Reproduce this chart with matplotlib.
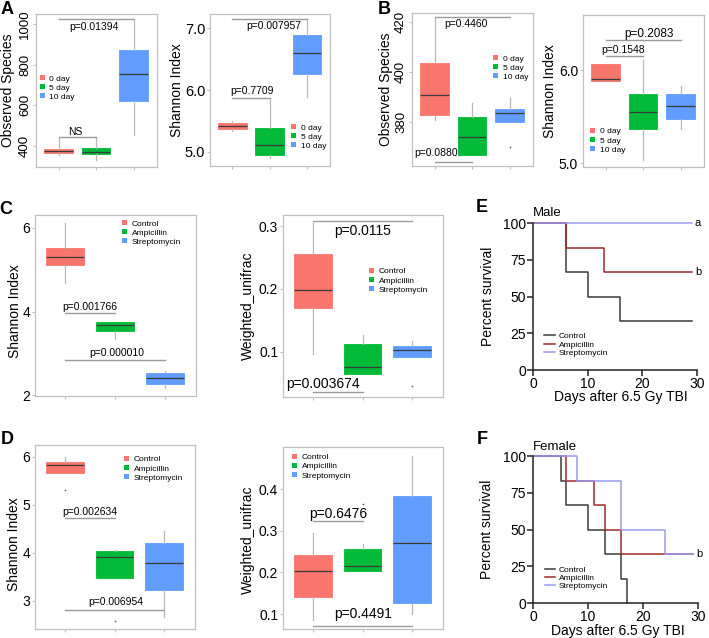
import matplotlib.pyplot as plt
from matplotlib.patches import Patch

plt.rcParams['font.family'] = ['Liberation Sans', 'DejaVu Sans']

# ---- values ----
days = ['0 day', '5 day', '10 day']
drugs = ['Control', 'Ampicillin', 'Streptomycin']
box_colors = ['#F8766D', '#00BA38', '#619CFF']

# A: observed species, shannon over time
a_obs_med = [377, 372, 754]
a_obs_q1 = [367, 359, 621]
a_obs_q3 = [385, 392, 872]
a_obs_lo = [356, 332, 454]
a_obs_hi = [440, 440, 1020]
a_obs_fl = [[], [], []]

a_sh_med = [5.42, 5.11, 6.60]
a_sh_q1 = [5.37, 4.95, 6.26]
a_sh_q3 = [5.47, 5.39, 6.89]
a_sh_lo = [5.34, 4.90, 5.89]
a_sh_hi = [5.50, 5.87, 7.15]
a_sh_fl = [[], [], []]

# B
b_obs_med = [390.8, 374.0, 383.5]
b_obs_q1 = [382.8, 366.8, 380.1]
b_obs_q3 = [403.7, 382.1, 385.2]
b_obs_lo = [380.8, 366.8, 380.1]
b_obs_hi = [421.5, 387.6, 389.7]
b_obs_fl = [[], [], [370.0]]

b_sh_med = [5.90, 5.55, 5.61]
b_sh_q1 = [5.88, 5.37, 5.48]
b_sh_q3 = [6.065, 5.74, 5.74]
b_sh_lo = [5.88, 5.03, 5.37]
b_sh_hi = [6.065, 6.11, 5.83]
b_sh_fl = [[], [], []]

# C
c_sh_med = [5.30, 3.68, 2.40]
c_sh_q1 = [5.11, 3.54, 2.26]
c_sh_q3 = [5.53, 3.76, 2.52]
c_sh_lo = [4.69, 3.34, 2.16]
c_sh_hi = [6.11, 3.76, 2.58]
c_sh_fl = [[], [], []]

c_wu_med = [0.198, 0.075, 0.102]
c_wu_q1 = [0.169, 0.064, 0.091]
c_wu_q3 = [0.255, 0.112, 0.109]
c_wu_lo = [0.096, 0.064, 0.091]
c_wu_hi = [0.305, 0.126, 0.117]
c_wu_fl = [[], [], [0.045]]

# D
d_sh_med = [5.83, 3.90, 3.79]
d_sh_q1 = [5.66, 3.48, 3.23]
d_sh_q3 = [5.89, 4.03, 4.20]
d_sh_lo = [5.66, 3.48, 2.65]
d_sh_hi = [6.00, 4.05, 4.45]
d_sh_fl = [[5.31], [2.58], []]

d_wu_med = [0.204, 0.216, 0.271]
d_wu_q1 = [0.141, 0.204, 0.126]
d_wu_q3 = [0.2425, 0.256, 0.385]
d_wu_lo = [0.085, 0.204, 0.100]
d_wu_hi = [0.295, 0.268, 0.480]
d_wu_fl = [[], [0.365], []]

# E / F: survival (days, percent)
e_ctrl_t = [0, 6, 10, 16, 29]
e_ctrl_s = [100, 66.7, 50, 33.3, 33.3]
e_amp_t = [0, 6, 13, 29]
e_amp_s = [100, 83.3, 66.7, 66.7]
e_strep_t = [0, 29]
e_strep_s = [100, 100]

f_ctrl_t = [0, 5, 6, 10, 13, 16, 17]
f_ctrl_s = [100, 83.3, 66.7, 50, 33.3, 16.7, 0]
f_amp_t = [0, 6, 11, 13, 16, 29]
f_amp_s = [100, 83.3, 66.7, 50, 33.3, 33.3]
f_strep_t = [0, 8, 16, 24, 29]
f_strep_s = [100, 83.3, 50, 33.3, 33.3]

surv_colors = ['#3a3a3a', '#9e2a2b', '#9b9bef']

W, H = 709, 638
fig = plt.figure(figsize=(W / 100, H / 100), dpi=100)


def px_axes(l, t, r, b):
    return fig.add_axes([l / W, 1 - b / H, (r - l) / W, (b - t) / H])


def box_panel(rect, med, q1, q3, lo, hi, fl, names, ylim, yticks, fmt,
              ylabel, ylab_xy, leg_xy, rot=False, tick_fs=10):
    ax = px_axes(*rect)
    stats = []
    for i in range(3):
        stats.append(dict(med=med[i], q1=q1[i], q3=q3[i],
                          whislo=lo[i], whishi=hi[i], fliers=fl[i]))
    parts = ax.bxp(stats, positions=[1, 2, 3], widths=0.76,
                   patch_artist=True, showcaps=False,
                   boxprops=dict(linewidth=0.6),
                   medianprops=dict(color='#3a3a3a', linewidth=0.9),
                   whiskerprops=dict(color='#b8b8b8', linewidth=0.9),
                   flierprops=dict(marker='o', markersize=1.2,
                                   markerfacecolor='#555555',
                                   markeredgecolor='none'))
    for patch, c in zip(parts['boxes'], box_colors):
        patch.set_facecolor(c)
        patch.set_edgecolor(c)
    ax.set_xlim(0.4, 3.62)
    ax.set_ylim(*ylim)
    ax.set_xticks([1, 2, 3])
    ax.set_xticklabels([])
    ax.set_yticks(yticks)
    ax.set_yticklabels([fmt.format(v) for v in yticks])
    for s in ax.spines.values():
        s.set_color('#c0c0c0')
        s.set_linewidth(0.9)
    ax.tick_params(length=2, color='#c0c0c0', pad=1.5, labelsize=tick_fs)
    if rot:
        ax.tick_params(axis='y', labelrotation=90)
        for lab in ax.get_yticklabels():
            lab.set_va('center')
    ax.set_ylabel(ylabel, fontsize=10, va='center')
    ax.yaxis.set_label_coords(*ylab_xy)
    handles = [Patch(facecolor=c, edgecolor='none', label=n)
               for c, n in zip(box_colors, names)]
    ax.legend(handles=handles, loc='upper left', bbox_to_anchor=leg_xy,
              frameon=False, fontsize=6, handlelength=0.65,
              handleheight=0.55, handletextpad=0.5, labelspacing=0.2,
              borderpad=0, borderaxespad=0)
    return ax


def bracket(ax, x1, x2, y, text, tx, ty, fs):
    ax.plot([x1, x2], [y, y], color='#9a9a9a', lw=1)
    ax.text(tx, ty, text, ha='center', va='center', fontsize=fs)


def surv_panel(rect, series, title, title_dy, xlab_xy):
    ax = px_axes(*rect)
    for (t, s, name), c in zip(series, surv_colors):
        ax.step(t, s, where='post', color=c, lw=1.1, label=name, clip_on=False)
    ax.set_xlim(0, 30)
    ax.set_ylim(0, 100)
    ax.set_xticks([0, 10, 20, 30])
    ax.set_yticks([0, 25, 50, 75, 100])
    for side in ['top', 'right']:
        ax.spines[side].set_visible(False)
    for side in ['left', 'bottom']:
        ax.spines[side].set_linewidth(1.1)
        ax.spines[side].set_color('#222222')
    ax.tick_params(length=4, width=1.1, color='#222222', labelsize=10, pad=1)
    ax.set_ylabel('Percent survival', fontsize=10, va='center')
    ax.yaxis.set_label_coords(-0.277, 0.5)
    ax.set_xlabel('Days after 6.5 Gy TBI', fontsize=10, va='center')
    ax.xaxis.set_label_coords(*xlab_xy)
    ax.text(0, 1 + title_dy, title, transform=ax.transAxes, ha='left',
            va='center', fontsize=9.5)
    ax.legend(loc='lower left', bbox_to_anchor=(0.07, 0.09), frameon=False,
              fontsize=6, handlelength=1.3, handletextpad=0.4,
              labelspacing=0.05, borderpad=0, borderaxespad=0)
    return ax


# ---- A ----
ax = box_panel((36, 14, 157, 167), a_obs_med, a_obs_q1, a_obs_q3, a_obs_lo,
               a_obs_hi, a_obs_fl, days, (297, 1049), [400, 600, 800, 1000],
               '{:.0f}', 'Observed Species', (-0.229, 0.5), (0.03, 0.6),
               rot=True, tick_fs=9.5)
bracket(ax, 1, 3, 1025, 'p=0.01394', 1.95, 987, 7.5)
bracket(ax, 1, 2, 443, 'NS', 1.45, 468, 7.5)

ax = box_panel((210, 14, 330, 166), a_sh_med, a_sh_q1, a_sh_q3, a_sh_lo,
               a_sh_hi, a_sh_fl, days, (4.77, 7.23), [5.0, 6.0, 7.0],
               '{:.1f}', 'Shannon Index', (-0.275, 0.5), (0.675, 0.276),
               tick_fs=10.5)
bracket(ax, 1, 3, 7.15, 'p=0.007957', 2.12, 7.04, 7.5)
bracket(ax, 1, 2, 5.87, 'p=0.7709', 1.53, 5.98, 7.5)

# ---- B ----
ax = box_panel((412, 13, 533, 166), b_obs_med, b_obs_q1, b_obs_q3, b_obs_lo,
               b_obs_hi, b_obs_fl, days, (362.4, 423.6), [380, 400, 420],
               '{:.0f}', 'Observed Species', (-0.215, 0.5), (0.67, 0.725),
               rot=True, tick_fs=9.5)
bracket(ax, 1, 3, 422.1, 'p=0.4460', 1.83, 419.1, 7.5)
bracket(ax, 1, 2, 363.9, 'p=0.0880', 1.05, 367.4, 7.5)

ax = box_panel((583, 15, 704, 167), b_sh_med, b_sh_q1, b_sh_q3, b_sh_lo,
               b_sh_hi, b_sh_fl, days, (4.96, 6.59), [5.0, 6.0],
               '{:.1f}', 'Shannon Index', (-0.269, 0.5), (0.058, 0.257))
bracket(ax, 1, 3, 6.32, 'p=0.2083', 2.15, 6.39, 8.5)
bracket(ax, 1, 2, 6.155, 'p=0.1548', 1.47, 6.215, 7.5)

# ---- C ----
ax = box_panel((35, 215, 196, 396), c_sh_med, c_sh_q1, c_sh_q3, c_sh_lo,
               c_sh_hi, c_sh_fl, drugs, (1.98, 6.31), [2, 4, 6],
               '{:.0f}', 'Shannon Index', (-0.126, 0.47), (0.54, 0.972))
bracket(ax, 1, 2, 3.97, 'p=0.001766', 1.5, 4.115, 7.5)
bracket(ax, 1, 3, 2.84, 'p=0.000010', 2.04, 3.02, 7.5)

ax = box_panel((283, 215, 443, 397), c_wu_med, c_wu_q1, c_wu_q3, c_wu_lo,
               c_wu_hi, c_wu_fl, drugs, (0.028, 0.3175), [0.1, 0.2, 0.3],
               '{:.1f}', 'Weighted_unifrac', (-0.222, 0.5), (0.5375, 0.709))
bracket(ax, 1, 3, 0.308, 'p=0.0115', 2.0, 0.292, 10)
bracket(ax, 1, 2, 0.036, 'p=0.003674', 1.21, 0.0484, 10)

# ---- D ----
ax = box_panel((35, 445, 195, 629), d_sh_med, d_sh_q1, d_sh_q3, d_sh_lo,
               d_sh_hi, d_sh_fl, drugs, (2.41, 6.24), [3, 4, 5, 6],
               '{:.0f}', 'Shannon Index', (-0.131, 0.46), (0.556, 0.94))
bracket(ax, 1, 2, 4.73, 'p=0.002634', 1.5, 4.854, 7.5)
bracket(ax, 1, 3, 2.81, 'p=0.006954', 2.02, 2.97, 7.5)

ax = box_panel((283, 447, 443, 629), d_wu_med, d_wu_q1, d_wu_q3, d_wu_lo,
               d_wu_hi, d_wu_fl, drugs, (0.064, 0.502), [0.1, 0.2, 0.3, 0.4],
               '{:.1f}', 'Weighted_unifrac', (-0.222, 0.49), (0.056, 0.962))
bracket(ax, 1, 2, 0.325, 'p=0.6476', 1.51, 0.3406, 10)
bracket(ax, 1, 3, 0.072, 'p=0.4491', 2.01, 0.100, 10)

# ---- E / F ----
ax = surv_panel((533, 223.3, 697, 370),
                [(e_ctrl_t, e_ctrl_s, drugs[0]), (e_amp_t, e_amp_s, drugs[1]),
                 (e_strep_t, e_strep_s, drugs[2])],
                'Male', 0.07, (0.535, -0.185))
ax.text(29.6, e_strep_s[-1], 'a', ha='left', va='center', fontsize=8, clip_on=False)
ax.text(29.6, e_amp_s[-1], 'b', ha='left', va='center', fontsize=8, clip_on=False)

ax = surv_panel((533, 456, 698, 603.3),
                [(f_ctrl_t, f_ctrl_s, drugs[0]), (f_amp_t, f_amp_s, drugs[1]),
                 (f_strep_t, f_strep_s, drugs[2])],
                'Female', 0.061, (0.512, -0.185))
ax.text(29.6, f_strep_s[-1], 'b', ha='left', va='center', fontsize=8, clip_on=False)

# panel letters
for letter, x, y in [('A', 7, 9), ('B', 384, 10), ('C', 6, 209),
                     ('D', 7, 440), ('E', 482, 208), ('F', 482, 440)]:
    fig.text(x / W, 1 - y / H, letter, fontsize=13, fontweight='bold',
             ha='center', va='center')

fig.savefig('out.png', dpi=100)
